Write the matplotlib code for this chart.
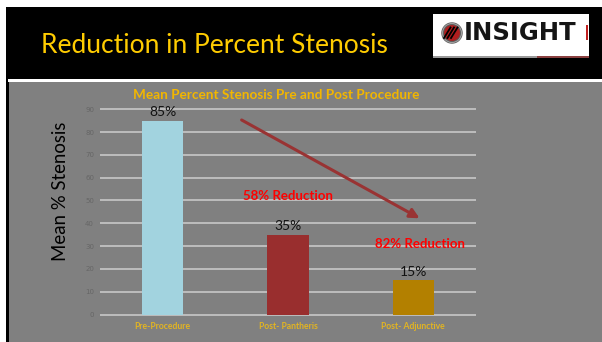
import numpy as np
import matplotlib
matplotlib.use('Agg')
from matplotlib import pyplot as plt
from matplotlib.patches import Rectangle, Circle

# chart data
categories = ['Pre-Procedure', 'Post- Pantheris', 'Post- Adjunctive']
stenosis = [85, 35, 15]
bar_colors = ['#a2d3df', '#992e2e', '#b38000']
y_ticks = [0, 10, 20, 30, 40, 50, 60, 70, 80, 90]
reductions = ['58% Reduction', '82% Reduction']

W, H = 602, 342
GRAY = '#808080'
GOLD = '#ffcc00'


def fx(px):
    return px / W


def fy(py):
    return 1 - py / H


def rect(x0, y0, x1, y1, color):
    # rectangle in pixel coords (top-left origin), kept behind the axes
    fig.add_artist(Rectangle((fx(x0), fy(y1)), fx(x1) - fx(x0), fy(y0) - fy(y1),
                             transform=fig.transFigure, color=color, lw=0,
                             zorder=-10))


fig = plt.figure(figsize=(W / 100, H / 100), dpi=100)
fig.patch.set_facecolor('white')

# slide background
rect(6, 7, 602, 342, 'black')
rect(8, 79, 602, 82, 'white')
rect(9, 82, 602, 342, GRAY)

fig.text(fx(41), fy(53), 'Reduction in Percent Stenosis', color=GOLD,
         fontsize=19, family='Lato', ha='left', va='baseline')

# logo
rect(433, 14, 589, 57, 'white')
rect(433, 56, 537, 57.5, '#9a9a9a')
rect(537, 56, 589, 57.5, '#8a4040')
lax = fig.add_axes([fx(440), fy(45), fx(24), 24 / H])
lax.set_xlim(-1.2, 1.2)
lax.set_ylim(-1.2, 1.2)
lax.set_aspect('equal')
lax.axis('off')
lax.add_patch(Circle((0, 0), 1.0, color='#5a5a5a'))
lax.add_patch(Circle((0, 0), 0.95, fill=False, ec='#a0a0a0', lw=0.8))
lax.add_patch(Circle((0, 0), 0.72, color='#b01e1e'))
for k in [-0.35, 0.0, 0.35]:
    lax.plot([-0.45 + k, 0.2 + k], [-0.5, 0.55], color='black', lw=1.3)
fig.text(fx(464), fy(40), 'INSIGHT', color='#151515', fontsize=17.5,
         weight='bold', family='DejaVu Sans', ha='left', va='baseline')
rect(585.5, 25, 588, 40, '#c02020')

# chart
ax = fig.add_axes([fx(100), fy(316.8), fx(376), (316.8 - 104.7) / H])
ax.set_facecolor('none')
x = np.arange(len(categories))
ax.bar(x, stenosis, width=0.33, color=bar_colors, zorder=2)
ax.set_xlim(-0.5, 2.5)
ax.set_ylim(-1, 92)
ax.set_yticks(y_ticks)
ax.yaxis.grid(True, color='#c8c8c8', lw=1.2)
ax.set_axisbelow(True)
for s in ax.spines.values():
    s.set_visible(False)
ax.tick_params(axis='both', length=0)
ax.tick_params(axis='y', labelsize=5, labelcolor='#666666', pad=4.3)
ax.set_xticks(x)
ax.set_xticklabels(categories, fontsize=6.2, color='#e2b422', family='Lato',
                   weight='bold')
ax.tick_params(axis='x', pad=4)

for i, v in enumerate(stenosis):
    ax.text(i, v + 2, f'{v}%', ha='center', va='baseline', fontsize=10,
            family='Lato', color='#111111')

ax.annotate('', xy=(2.05, 42.2), xytext=(0.63, 85.3),
            arrowprops=dict(arrowstyle='-|>', color='#993333', lw=2.2,
                            mutation_scale=14, shrinkA=0, shrinkB=0))
ax.text(1.0, 52, reductions[0], color='#ff0000', fontsize=9.5, weight='bold',
        family='Lato', ha='center', va='center')
ax.text(2.05, 31, reductions[1], color='#ff0000', fontsize=9.5, weight='bold',
        family='Lato', ha='center', va='center')

fig.text(fx(276), fy(95), 'Mean Percent Stenosis Pre and Post Procedure',
         color='#f2b600', fontsize=9.8, weight='bold', family='Lato',
         ha='center', va='center')
fig.text(fx(61), fy(191), 'Mean % Stenosis', rotation=90, fontsize=13.4,
         family='Lato', color='black', ha='center', va='center')

fig.savefig('out.png', dpi=100)
